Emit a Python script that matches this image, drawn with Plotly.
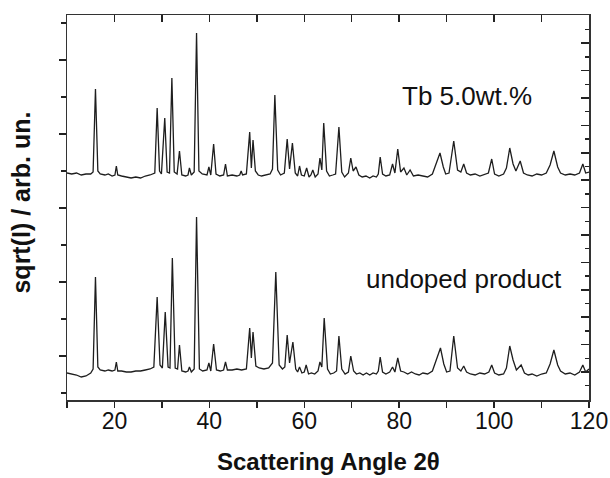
import plotly.graph_objects as go

# ---- data (y in arbitrary units) ----
two_theta_doped = [10.0, 11.0, 12.0, 13.0, 14.0, 15.0, 15.5, 16.0, 16.5, 17.0, 18.0, 18.7, 19.5, 20.1, 20.4, 20.7,
                   21.5, 22.5, 23.5, 24.5, 25.5, 26.5, 27.5, 28.5, 29.0, 29.5, 29.9, 30.6, 31.1, 31.6, 32.1, 32.6,
                   33.2, 33.7, 34.2, 35.0, 35.5, 35.8, 36.2, 36.8, 37.3, 37.8, 38.5, 39.5, 39.9, 40.3, 40.9, 41.4,
                   42.2, 43.0, 43.4, 43.8, 44.8, 45.8, 46.4, 46.7, 47.0, 47.8, 48.5, 48.85, 49.2, 49.7, 50.3, 51.0,
                   52.0, 52.8, 53.3, 53.8, 54.4, 55.0, 55.8, 56.4, 56.9, 57.5, 58.1, 58.6, 59.0, 59.4, 60.0, 60.5,
                   61.0, 61.4, 61.8, 62.3, 62.9, 63.3, 63.7, 64.1, 64.7, 65.3, 66.0, 66.6, 67.3, 67.9, 68.5, 69.3,
                   69.8, 70.3, 70.9, 71.5, 72.2, 73.0, 73.8, 74.5, 75.2, 75.6, 76.0, 76.5, 77.2, 78.0, 78.6, 79.1,
                   79.7, 80.3, 81.0, 81.6, 82.3, 83.0, 84.0, 85.0, 86.0, 87.0, 87.8, 88.6, 89.3, 89.8, 90.5, 91.5,
                   92.3, 93.0, 93.6, 94.2, 95.0, 96.0, 97.0, 98.0, 98.8, 99.5, 100.1, 101.0, 102.0, 102.6, 103.3, 104.0,
                   104.6, 105.5, 106.2, 107.0, 108.0, 109.0, 110.0, 111.0, 111.8, 112.6, 113.4, 114.0, 115.0, 116.0, 117.0, 118.0,
                   118.7, 119.3, 120.0]
intensity_doped = [220, 219, 220, 218, 219, 219, 221, 304, 222, 219, 218, 219, 217, 218, 227, 218,
                   217, 216, 215, 216, 215, 217, 218, 220, 285, 222, 219, 275, 221, 220, 315, 221,
                   219, 242, 218, 217, 218, 225, 218, 221, 360, 222, 219, 218, 226, 218, 249, 219,
                   217, 218, 229, 217, 218, 217, 218, 222, 218, 219, 261, 225, 253, 222, 218, 217,
                   218, 219, 224, 298, 223, 218, 220, 254, 224, 250, 220, 217, 227, 218, 217, 225,
                   216, 218, 223, 216, 219, 235, 223, 270, 222, 217, 218, 219, 266, 221, 216, 220,
                   235, 222, 226, 218, 216, 217, 215, 217, 216, 219, 236, 219, 217, 218, 229, 220,
                   244, 221, 225, 218, 223, 217, 218, 217, 216, 219, 230, 240, 226, 219, 220, 252,
                   223, 221, 229, 220, 218, 219, 217, 219, 220, 234, 219, 217, 219, 225, 245, 229,
                   222, 232, 220, 218, 217, 219, 218, 220, 228, 242, 226, 220, 218, 219, 218, 220,
                   229, 220, 221]

two_theta_undoped = [10.0, 11.0, 12.0, 13.0, 14.0, 15.0, 15.5, 16.0, 16.5, 17.0, 18.0, 18.7, 19.5, 20.1, 20.4, 20.7,
                     21.5, 22.5, 23.5, 24.5, 25.5, 26.5, 27.5, 28.3, 29.0, 29.6, 30.1, 30.7, 31.3, 31.7, 32.2, 32.8,
                     33.3, 33.7, 34.2, 35.0, 35.5, 35.8, 36.2, 36.8, 37.3, 37.9, 38.6, 39.5, 39.9, 40.3, 40.9, 41.5,
                     42.3, 43.0, 43.4, 43.8, 44.8, 45.8, 46.8, 47.8, 48.5, 48.85, 49.2, 49.8, 50.5, 51.5, 52.5, 53.3,
                     54.0, 54.7, 55.4, 55.9, 56.4, 56.9, 57.6, 58.2, 58.6, 59.0, 59.5, 60.0, 60.4, 60.9, 61.5, 62.2,
                     62.9, 63.3, 63.7, 64.2, 64.9, 65.5, 66.2, 66.8, 67.3, 67.9, 68.6, 69.3, 69.8, 70.4, 71.0, 71.7,
                     72.4, 73.1, 73.8, 74.5, 75.2, 75.6, 76.0, 76.5, 77.2, 78.0, 78.6, 79.1, 79.7, 80.3, 81.0, 81.8,
                     82.6, 83.4, 84.2, 85.0, 86.0, 87.0, 87.8, 88.7, 89.4, 90.0, 90.7, 91.5, 92.3, 93.0, 93.6, 94.2,
                     95.0, 96.0, 97.0, 98.0, 98.9, 99.5, 100.1, 101.0, 102.0, 102.6, 103.3, 104.0, 104.7, 105.7, 106.4, 107.2,
                     108.0, 109.0, 110.0, 111.0, 111.8, 112.6, 113.4, 114.0, 115.0, 116.0, 117.0, 118.0, 118.7, 119.3, 120.0]
intensity_undoped = [20, 19, 18, 16, 17, 20, 24, 116, 26, 23, 22, 23, 22, 23, 31, 22,
                     22, 21, 21, 22, 22, 23, 24, 26, 96, 28, 25, 81, 26, 25, 135, 25,
                     24, 48, 22, 21, 22, 26, 21, 24, 176, 24, 22, 23, 30, 22, 49, 23,
                     22, 23, 31, 23, 23, 24, 23, 24, 65, 35, 61, 27, 25, 24, 25, 30,
                     121, 28, 24, 26, 58, 30, 51, 24, 21, 26, 20, 21, 28, 19, 20, 19,
                     22, 31, 26, 75, 24, 19, 20, 22, 57, 24, 19, 21, 37, 22, 19, 20,
                     18, 20, 18, 20, 19, 22, 36, 21, 19, 21, 26, 21, 35, 22, 21, 19,
                     21, 19, 18, 20, 19, 22, 33, 45, 29, 21, 22, 57, 25, 22, 27, 21,
                     19, 18, 20, 19, 21, 28, 20, 18, 19, 25, 47, 33, 23, 28, 20, 18,
                     19, 17, 19, 20, 29, 43, 28, 22, 19, 20, 18, 21, 28, 21, 24]

label_doped = "Tb 5.0wt.%"
label_undoped = "undoped product"
x_ticks = [10, 20, 30, 40, 50, 60, 70, 80, 90, 100, 110, 120]
x_label_ticks = [20, 40, 60, 80, 100, 120]
x_title = "Scattering Angle 2θ"
y_title = "sqrt(I) / arb. un."

FONT = "Arial, 'Liberation Sans', sans-serif"
LINE = "#1e1e1e"

fig = go.Figure()
fig.add_trace(go.Scatter(x=two_theta_doped, y=intensity_doped, mode="lines",
                         line=dict(color=LINE, width=1.3), showlegend=False))
fig.add_trace(go.Scatter(x=two_theta_undoped, y=intensity_undoped, mode="lines",
                         line=dict(color=LINE, width=1.3), showlegend=False))
# empty traces to anchor the extra tick axes (top, right, bottom ticks)
fig.add_trace(go.Scatter(x=[None], y=[None], xaxis="x2", yaxis="y2", showlegend=False))
fig.add_trace(go.Scatter(x=[None], y=[None], xaxis="x3", yaxis="y", showlegend=False))

axis_common = dict(showgrid=False, zeroline=False, showline=True, linecolor="#333", linewidth=1.5)

fig.update_layout(
    width=610, height=478,
    margin=dict(l=67, r=21, t=15, b=78, autoexpand=False),
    paper_bgcolor="white", plot_bgcolor="white",
    font=dict(family=FONT, color="#111"),
    # bottom axis: labels only
    xaxis=dict(range=[10, 120], tickvals=x_label_ticks, ticks="", ticklen=0,
               tickfont=dict(size=23, family=FONT, color="#111"), **axis_common),
    # bottom axis ticks (outside)
    xaxis3=dict(range=[10, 120], overlaying="x", side="bottom", anchor="y",
                tickvals=x_ticks, ticks="outside", ticklen=6, tickwidth=1.5, tickcolor="#222",
                showticklabels=False, **axis_common),
    # top mirrored axis (inside ticks)
    xaxis2=dict(range=[10, 120], overlaying="x", side="top", anchor="y",
                tickvals=x_ticks[1:-1], ticks="inside", ticklen=7, tickwidth=1.5, tickcolor="#222",
                showticklabels=False, **axis_common),
    yaxis=dict(range=[-7, 378], tick0=37, dtick=74, ticks="outside", ticklen=7, tickwidth=1.5,
               tickcolor="#222", showticklabels=False,
               minor=dict(tick0=0, dtick=37, ticks="outside", ticklen=5, tickwidth=1.5, tickcolor="#222"),
               **axis_common),
    yaxis2=dict(range=[-7, 378], overlaying="y", side="right", anchor="x",
                tick0=21, dtick=27.4, ticks="inside", ticklen=8, tickwidth=1.5, tickcolor="#222",
                showticklabels=False,
                minor=dict(tick0=7.3, dtick=13.7, ticks="inside", ticklen=4, tickwidth=1.5, tickcolor="#222"),
                **axis_common),
    annotations=[
        dict(text=label_doped, x=94.3, y=297, xref="x", yref="y", showarrow=False,
             font=dict(size=26, family=FONT, color="#111")),
        dict(text=label_undoped, x=93.6, y=114, xref="x", yref="y", showarrow=False,
             font=dict(size=26, family=FONT, color="#111")),
        dict(text="<b>" + x_title + "</b>", x=0.5, y=-0.2, xref="paper", yref="paper",
             xanchor="center", yanchor="bottom", showarrow=False,
             font=dict(size=24, family=FONT, color="#111")),
        dict(text="<b>" + y_title + "</b>", x=-0.089, y=(400 - 203) / 385, xref="paper", yref="paper",
             xanchor="center", yanchor="middle", textangle=-90, showarrow=False,
             font=dict(size=25, family=FONT, color="#111")),
    ],
)

fig.write_html("out.html",
               config={"displayModeBar": False, "staticPlot": True},
               post_script="document.body.style.margin='0';document.body.style.overflow='hidden';")
